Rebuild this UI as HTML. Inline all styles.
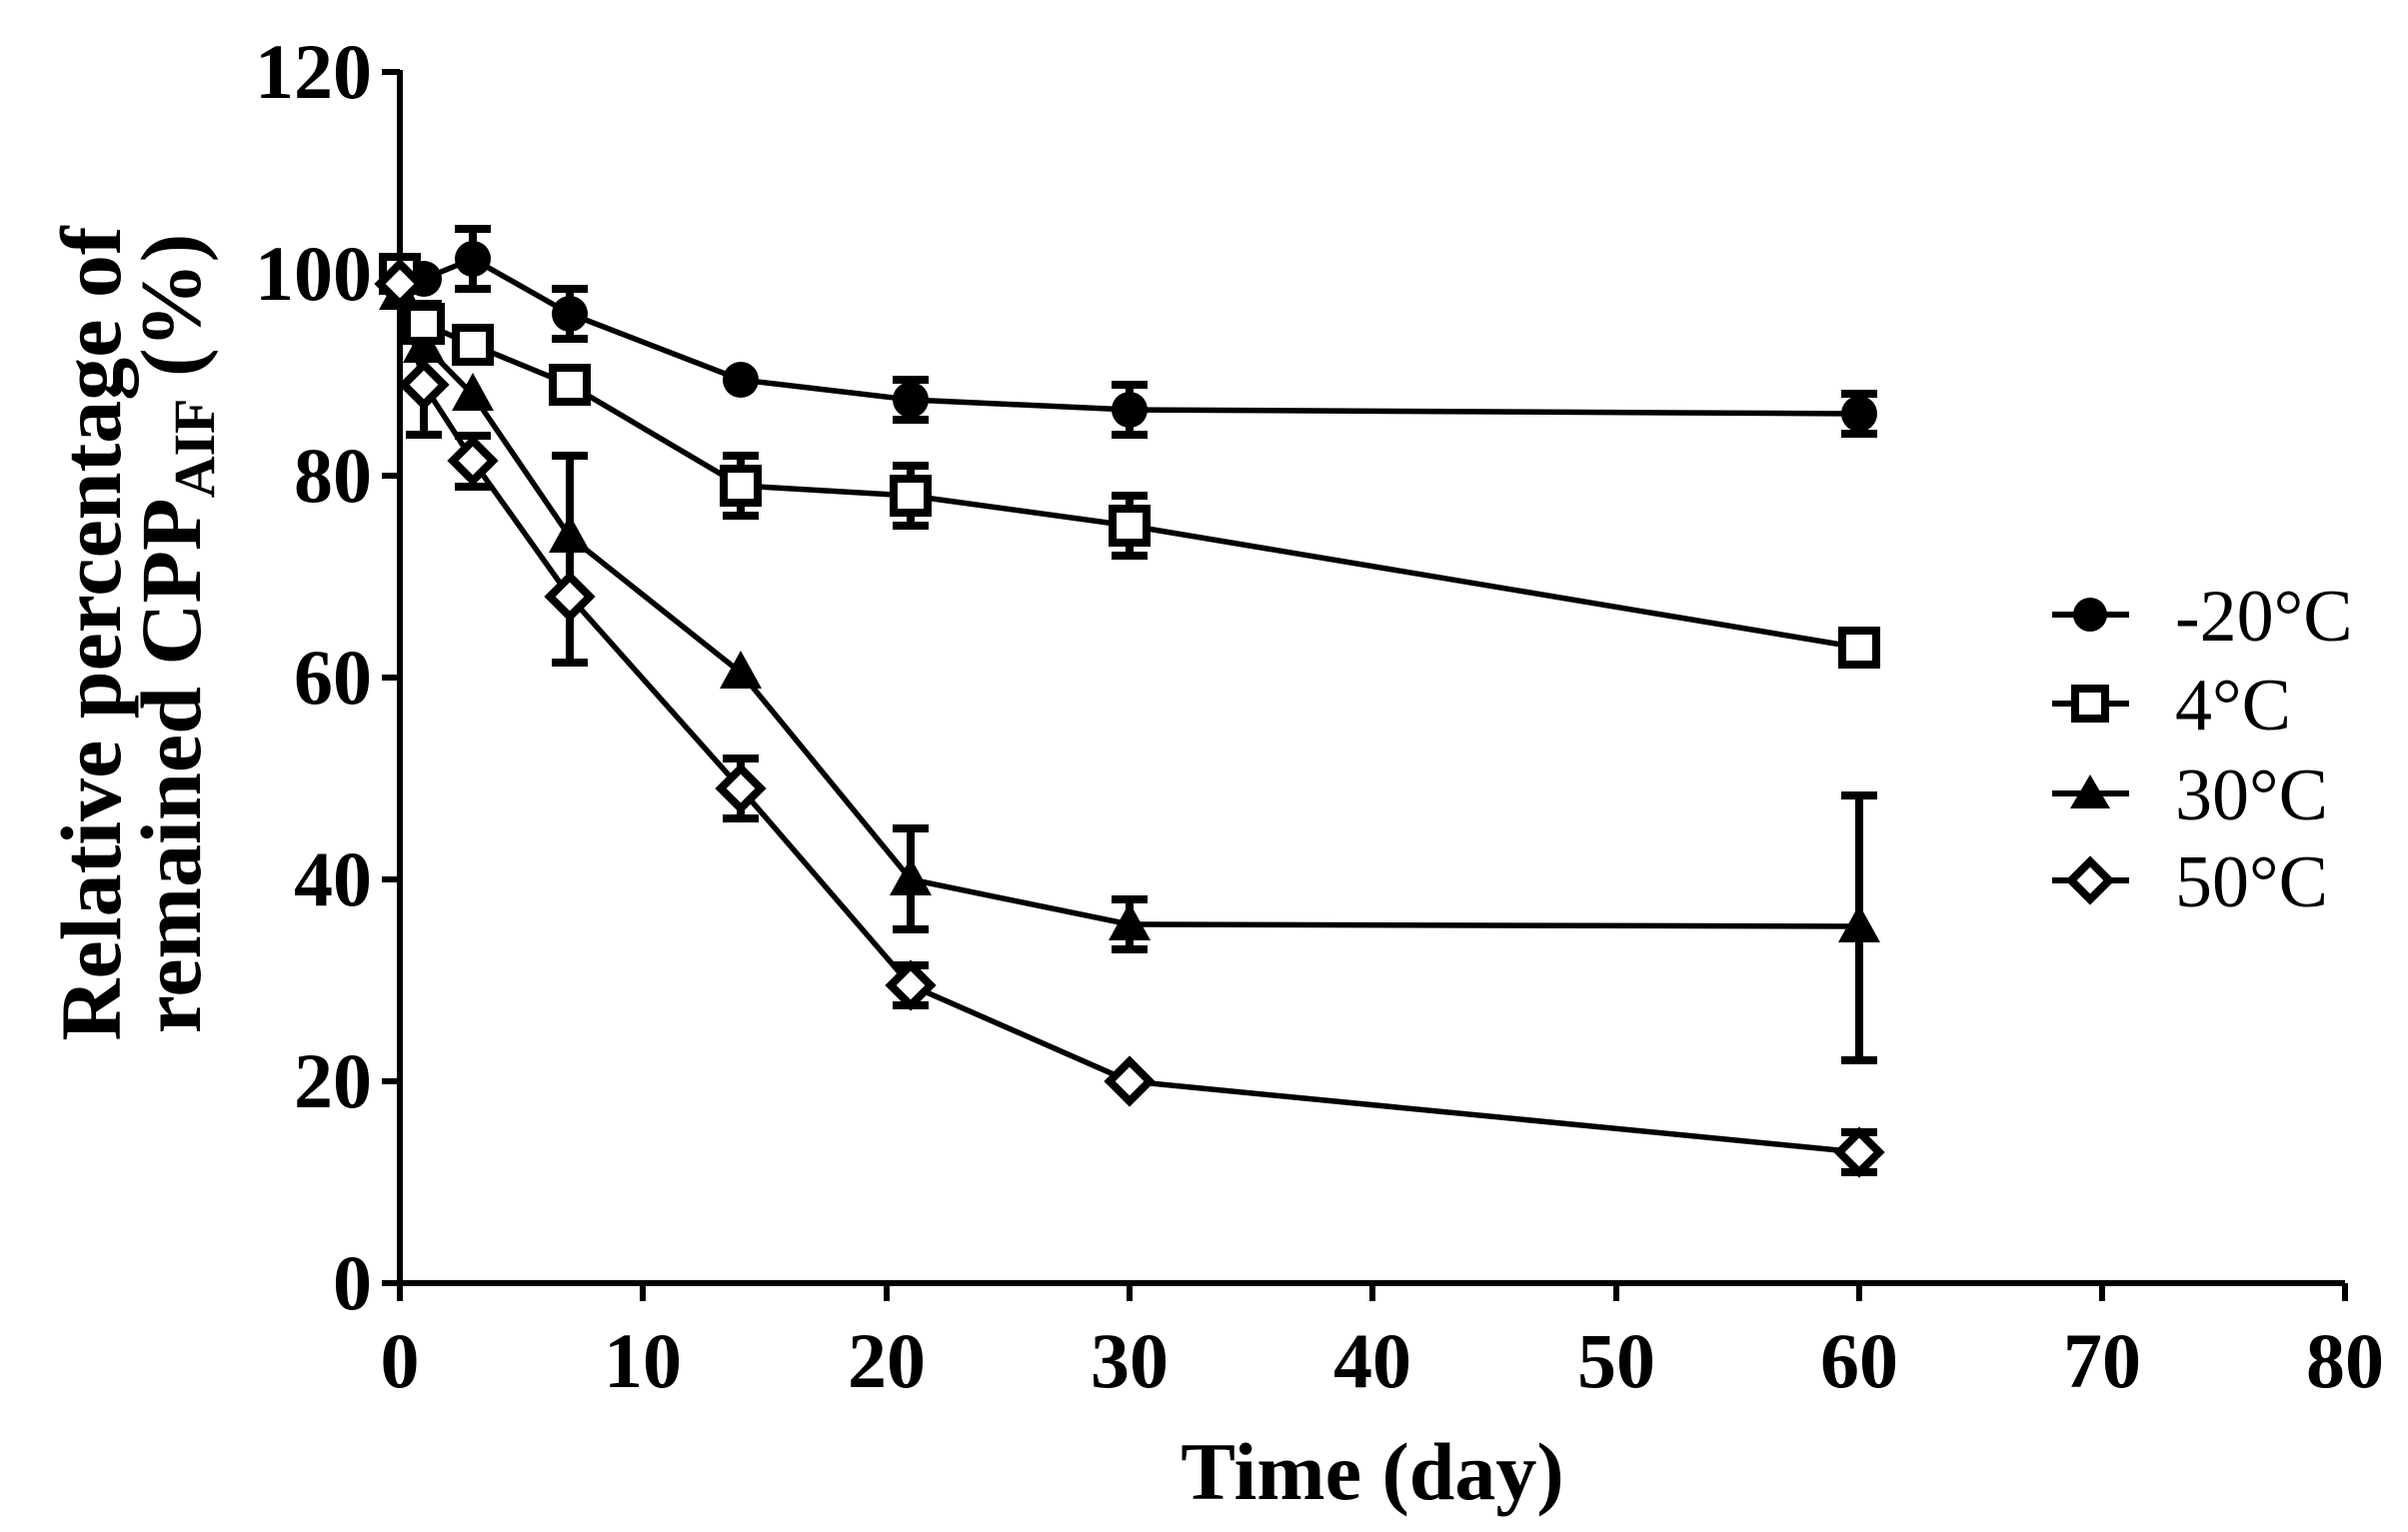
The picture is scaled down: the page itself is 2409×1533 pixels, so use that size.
<!DOCTYPE html>
<html><head><meta charset="utf-8"><style>html,body{margin:0;padding:0;background:#fff}svg{display:block}</style></head>
<body>
<svg width="2409" height="1533" viewBox="0 0 2409 1533" xmlns="http://www.w3.org/2000/svg" font-family="'Liberation Serif', serif">
<g stroke="#000" stroke-width="6" fill="none">
<line x1="400" y1="70" x2="400" y2="1287"/>
<line x1="397" y1="1284" x2="2346" y2="1284"/>
<line x1="382" y1="72" x2="400" y2="72"/><line x1="382" y1="274" x2="400" y2="274"/>
<line x1="382" y1="476" x2="400" y2="476"/><line x1="382" y1="678" x2="400" y2="678"/>
<line x1="382" y1="880" x2="400" y2="880"/><line x1="382" y1="1082" x2="400" y2="1082"/>
<line x1="382" y1="1284" x2="400" y2="1284"/>
<line x1="400" y1="1284" x2="400" y2="1302"/><line x1="643" y1="1284" x2="643" y2="1302"/>
<line x1="887" y1="1284" x2="887" y2="1302"/><line x1="1130" y1="1284" x2="1130" y2="1302"/>
<line x1="1373" y1="1284" x2="1373" y2="1302"/><line x1="1617" y1="1284" x2="1617" y2="1302"/>
<line x1="1860" y1="1284" x2="1860" y2="1302"/><line x1="2103" y1="1284" x2="2103" y2="1302"/>
<line x1="2346" y1="1284" x2="2346" y2="1302"/>
</g>
<g font-weight="bold" font-size="78" text-anchor="end">
<text x="372" y="98">120</text><text x="372" y="300">100</text><text x="372" y="502">80</text>
<text x="372" y="704">60</text><text x="372" y="906">40</text><text x="372" y="1108">20</text><text x="372" y="1310">0</text>
</g>
<g font-weight="bold" font-size="78" text-anchor="middle">
<text x="400" y="1388">0</text><text x="643" y="1388">10</text><text x="887" y="1388">20</text>
<text x="1130" y="1388">30</text><text x="1373" y="1388">40</text><text x="1617" y="1388">50</text>
<text x="1860" y="1388">60</text><text x="2103" y="1388">70</text><text x="2346" y="1388">80</text>
<text x="1373" y="1500" font-size="82">Time (day)</text>
</g>
<g font-weight="bold" font-size="86" text-anchor="middle">
<text transform="translate(120,634) rotate(-90)">Relative percentage of</text>
<text transform="translate(200,634) rotate(-90)">remained CPP<tspan font-size="58" dy="14">AIF</tspan><tspan dy="-14"> (%)</tspan></text>
</g>
<g stroke="#000" stroke-width="5.5" fill="none">
<polyline points="400,274 424,279 473,259 570,314 741,380 911,400 1130,410 1860,414"/>
<polyline points="400,274 424,324 473,345 570,385 741,486 911,496 1130,526 1860,648"/>
<polyline points="400,294 424,345 473,395 570,537 741,673 911,880 1130,925 1860,927"/>
<polyline points="400,284 424,385 473,461 570,597 741,789 911,986 1130,1082 1860,1153"/>
</g>
<g stroke="#000" stroke-width="8" fill="none">
<path d="M473,229V289M455,229H491M455,289H491"/>
<path d="M570,289V339M552,289H588M552,339H588"/>
<path d="M911,380V420M893,380H929M893,420H929"/>
<path d="M1130,385V435M1112,385H1148M1112,435H1148"/>
<path d="M1860,394V434M1842,394H1878M1842,434H1878"/>
<path d="M741,456V516M723,456H759M723,516H759"/>
<path d="M911,466V526M893,466H929M893,526H929"/>
<path d="M1130,496V556M1112,496H1148M1112,556H1148"/>
<path d="M424,304V435M406,304H442M406,435H442"/>
<path d="M570,456V663M552,456H588M552,663H588"/>
<path d="M911,829V930M893,829H929M893,930H929"/>
<path d="M1130,900V950M1112,900H1148M1112,950H1148"/>
<path d="M1860,796V1061M1842,796H1878M1842,1061H1878"/>
<path d="M473,436V487M455,436H491M455,487H491"/>
<path d="M741,759V819M723,759H759M723,819H759"/>
<path d="M911,966V1006M893,966H929M893,1006H929"/>
<path d="M1860,1133V1173M1842,1133H1878M1842,1173H1878"/>
</g>
<g fill="#000">
<circle cx="400" cy="274" r="18"/><circle cx="424" cy="279" r="18"/><circle cx="473" cy="259" r="18"/>
<circle cx="570" cy="314" r="18"/><circle cx="741" cy="380" r="18"/><circle cx="911" cy="400" r="18"/>
<circle cx="1130" cy="410" r="18"/><circle cx="1860" cy="414" r="18"/>
<polygon points="400,272 421,310 379,310"/><polygon points="424,325 445,363 403,363"/>
<polygon points="473,373 494,411 452,411"/><polygon points="570,515 591,553 549,553"/>
<polygon points="741,651 762,689 720,689"/><polygon points="911,858 932,896 890,896"/>
<polygon points="1130,903 1151,941 1109,941"/><polygon points="1860,905 1881,943 1839,943"/>
</g>
<g fill="#fff" stroke="#000" stroke-width="8">
<rect x="383" y="257" width="34" height="34"/><rect x="407" y="307" width="34" height="34"/>
<rect x="456" y="328" width="34" height="34"/><rect x="553" y="368" width="34" height="34"/>
<rect x="724" y="469" width="34" height="34"/><rect x="894" y="479" width="34" height="34"/>
<rect x="1113" y="509" width="34" height="34"/><rect x="1843" y="631" width="34" height="34"/>
<path d="M400,264l20,20l-20,20l-20,-20z"/><path d="M424,365l20,20l-20,20l-20,-20z"/>
<path d="M473,441l20,20l-20,20l-20,-20z"/><path d="M570,577l20,20l-20,20l-20,-20z"/>
<path d="M741,769l20,20l-20,20l-20,-20z"/><path d="M911,966l20,20l-20,20l-20,-20z"/>
<path d="M1130,1062l20,20l-20,20l-20,-20z"/><path d="M1860,1133l20,20l-20,20l-20,-20z"/>
</g>
<g stroke="#000" stroke-width="6">
<line x1="2053" y1="615" x2="2130" y2="615"/><line x1="2053" y1="704" x2="2130" y2="704"/>
<line x1="2053" y1="794" x2="2130" y2="794"/><line x1="2053" y1="881" x2="2130" y2="881"/>
</g>
<circle cx="2091" cy="615" r="17" fill="#000"/>
<rect x="2076" y="689" width="30" height="30" fill="#fff" stroke="#000" stroke-width="8"/>
<polygon points="2091,775 2111,809 2071,809" fill="#000"/>
<path d="M2091,862l19,19l-19,19l-19,-19z" fill="#fff" stroke="#000" stroke-width="8"/>
<g font-size="74">
<text x="2176" y="641">-20°C</text><text x="2176" y="730">4°C</text>
<text x="2176" y="820">30°C</text><text x="2176" y="907">50°C</text>
</g>
</svg>
</body></html>
